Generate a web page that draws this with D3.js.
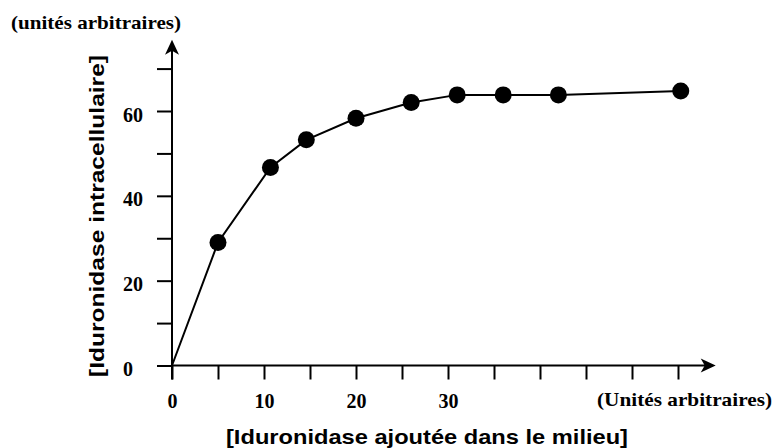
<!DOCTYPE html>
<html>
<head>
<meta charset="utf-8">
<script src="https://cdn.jsdelivr.net/npm/d3@7"></script>
<style>
  body { margin: 0; background: #fff; }
  svg { display: block; }
  .serif { font-family: "Liberation Serif", "Times New Roman", serif; font-weight: bold; }
  .sans { font-family: "Liberation Sans", Arial, sans-serif; font-weight: bold; }
</style>
</head>
<body>
<svg id="chart" width="774" height="448"></svg>
<script>
// Iduronidase added to the medium vs. intracellular iduronidase (arbitrary units)
const addedDose = [5, 10.7, 14.6, 20, 26, 31, 36, 42, 55.3];
const intracellular = [29, 46.7, 53.2, 58.3, 62, 63.8, 63.8, 63.8, 64.7];
const xTickValues = [0, 5, 10, 15, 20, 25, 30, 35, 40, 45, 50, 55];
const xTickLabels = [0, 10, 20, 30];
const yTickValues = [0, 10, 20, 30, 40, 50, 60, 70];
const yTickLabels = [0, 20, 40, 60];

const svg = d3.select("#chart");

const x = d3.scaleLinear().domain([0, 60]).range([172, 724]);
const y = d3.scaleLinear().domain([0, 60]).range([365.5, 111]);
const xEnd = 59.1;   // arrow tip of the horizontal axis
const yEnd = 76.8;   // arrow tip of the vertical axis

// Horizontal axis
const gx = svg.append("g")
  .attr("transform", `translate(0,${y(0)})`)
  .call(d3.axisBottom(x)
    .tickValues(xTickValues)
    .tickSize(14)
    .tickPadding(14)
    .tickFormat(d => xTickLabels.includes(d) ? d : ""));
gx.select(".domain").remove();
gx.selectAll(".tick line").attr("stroke", "#000").attr("stroke-width", 2);
gx.selectAll(".tick text")
  .attr("class", "serif")
  .attr("font-size", 20)
  .attr("fill", "#000");

// Vertical axis
const gy = svg.append("g")
  .attr("transform", `translate(${x(0)},0)`)
  .call(d3.axisLeft(y)
    .tickValues(yTickValues)
    .tickSize(15)
    .tickFormat(d => yTickLabels.includes(d) ? d : ""));
gy.select(".domain").remove();
gy.selectAll(".tick line").attr("stroke", "#000").attr("stroke-width", 2);
gy.selectAll(".tick text")
  .attr("class", "serif")
  .attr("font-size", 20)
  .attr("fill", "#000")
  .attr("text-anchor", "start")
  .attr("x", -49)
  .attr("dy", "0.5em");

// Axis lines with arrowheads
const axes = svg.append("g").attr("stroke", "#000").attr("stroke-width", 2);
axes.append("line").attr("x1", x(0) - 1).attr("x2", x(xEnd) - 6)
  .attr("y1", y(0)).attr("y2", y(0));
axes.append("line").attr("x1", x(0)).attr("x2", x(0))
  .attr("y1", y(0) + 14).attr("y2", y(yEnd) + 6);

const tipX = [x(xEnd), y(0)];
svg.append("path")
  .attr("d", `M${tipX[0]},${tipX[1]} L${tipX[0] - 15},${tipX[1] - 7} L${tipX[0] - 11},${tipX[1]} L${tipX[0] - 15},${tipX[1] + 7} Z`)
  .attr("fill", "#000");
const tipY = [x(0), y(yEnd)];
svg.append("path")
  .attr("d", `M${tipY[0]},${tipY[1]} L${tipY[0] - 7},${tipY[1] + 15} L${tipY[0]},${tipY[1] + 11} L${tipY[0] + 7},${tipY[1] + 15} Z`)
  .attr("fill", "#000");

// Curve from the origin through the measured points
const pts = addedDose.map((d, i) => [d, intracellular[i]]);
svg.append("path")
  .datum([[0, 0], ...pts])
  .attr("fill", "none")
  .attr("stroke", "#000")
  .attr("stroke-width", 2)
  .attr("d", d3.line().x(d => x(d[0])).y(d => y(d[1])));

svg.append("g").selectAll("circle")
  .data(pts)
  .join("circle")
  .attr("cx", d => x(d[0]))
  .attr("cy", d => y(d[1]))
  .attr("r", 8.5)
  .attr("fill", "#000");

// Labels
svg.append("text")
  .attr("class", "serif")
  .attr("x", 11).attr("y", 29)
  .attr("font-size", 19)
  .attr("textLength", 170)
  .attr("lengthAdjust", "spacingAndGlyphs")
  .text("(unités arbitraires)");

svg.append("text")
  .attr("class", "serif")
  .attr("x", 597).attr("y", 405.5)
  .attr("font-size", 19)
  .attr("textLength", 175)
  .attr("lengthAdjust", "spacingAndGlyphs")
  .text("(Unités arbitraires)");

svg.append("text")
  .attr("class", "sans")
  .attr("x", 226).attr("y", 444)
  .attr("font-size", 21)
  .attr("textLength", 402)
  .attr("lengthAdjust", "spacingAndGlyphs")
  .text("[Iduronidase ajoutée dans le milieu]");

svg.append("text")
  .attr("class", "sans")
  .attr("transform", `translate(104,377) rotate(-90)`)
  .attr("font-size", 21)
  .attr("textLength", 322)
  .attr("lengthAdjust", "spacingAndGlyphs")
  .text("[Iduronidase intracellulaire]");
</script>
</body>
</html>
